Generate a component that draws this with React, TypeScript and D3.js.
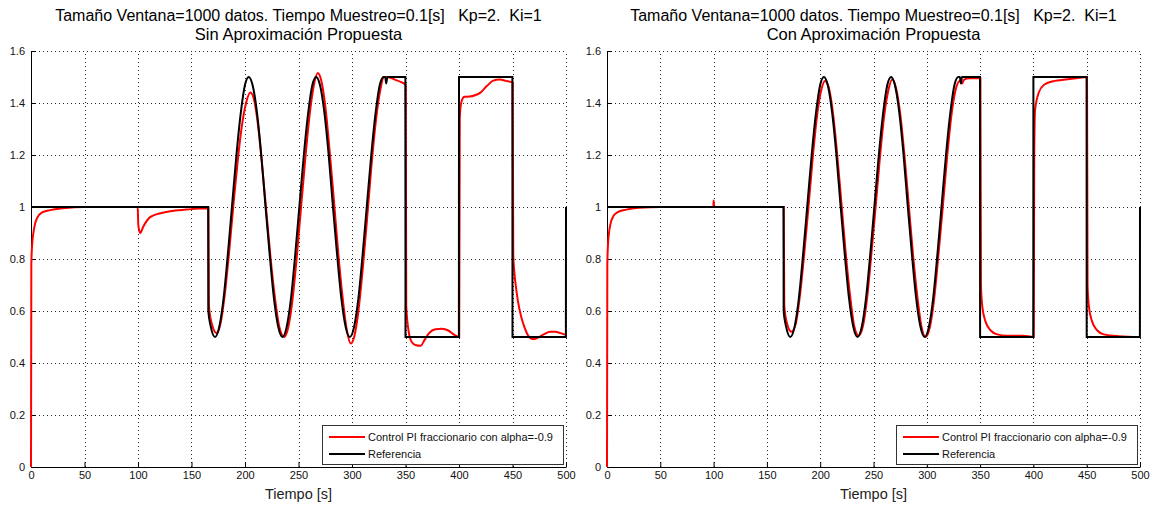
import React, { useRef, useEffect } from 'react';
import { select, scaleLinear, line, curveMonotoneX, axisBottom, axisLeft } from 'd3';

const titleTop = 'Tamaño Ventana=1000 datos. Tiempo Muestreo=0.1[s]   Kp=2.  Ki=1';
const subtitles = ['Sin Aproximación Propuesta', 'Con Aproximación Propuesta'];
const legendLabels = ['Control PI fraccionario con alpha=-0.9', 'Referencia'];
const xLabel = 'Tiempo [s]';
const xTicks = [0, 50, 100, 150, 200, 250, 300, 350, 400, 450, 500];
const yTicks = [0, 0.2, 0.4, 0.6, 0.8, 1, 1.2, 1.4, 1.6];

// reference signal (black)
const refTime = [0, 165.6, 165.7, 168, 172, 176, 180, 184, 188, 192, 196, 200, 203.5, 207, 211, 215, 219, 223, 227, 231, 235,
  239, 243, 247, 251, 255, 259, 263, 266.5, 270, 274, 278, 282, 286, 290, 294, 298,
  302, 306, 310, 314, 318, 322, 326, 329.5, 331, 332, 333, 349.9, 350, 399.9, 400, 449.9, 450, 499.9, 500];
const refValue = [1, 1, 0.6, 0.54, 0.5, 0.54, 0.65, 0.82, 1.01, 1.2, 1.36, 1.47, 1.5, 1.47, 1.37, 1.21, 1.01, 0.82, 0.65, 0.54, 0.5,
  0.54, 0.65, 0.82, 1.01, 1.2, 1.36, 1.47, 1.5, 1.47, 1.37, 1.21, 1.01, 0.82, 0.65, 0.54, 0.5,
  0.54, 0.65, 0.82, 1.01, 1.2, 1.36, 1.47, 1.5, 1.5, 1.475, 1.5, 1.5, 0.5, 0.5, 1.5, 1.5, 0.5, 0.5, 1];

// PI fraccionario, sin aproximacion (red, left)
const sinTime = [0, 0.3, 1, 3, 6, 10, 18, 30, 50, 99.7, 100.3, 102, 105, 111, 120, 130, 145, 165.8,
  166.3, 169, 173.5, 177, 181, 185, 189, 193, 197, 201, 205, 208, 212, 216, 220, 224, 228, 232, 236.5,
  240, 244, 248, 252, 256, 260, 264, 268, 271, 275, 279, 283, 287, 291, 295, 299,
  302, 306, 310, 314, 318, 322, 326, 330, 333, 340, 346, 350.2,
  350.7, 353, 356, 360, 364, 368, 372, 378, 384, 390, 395, 400.2,
  400.7, 402, 405, 410, 415, 420, 426, 432, 438, 444, 450.2,
  450.7, 451.5, 453, 455, 458, 461, 464, 467, 470, 475, 480, 485, 490, 495, 500];
const sinValue = [0, 0.78, 0.85, 0.92, 0.96, 0.978, 0.988, 0.995, 1, 1, 0.93, 0.9, 0.925, 0.96, 0.975, 0.984, 0.99, 0.995,
  0.62, 0.55, 0.515, 0.55, 0.66, 0.82, 1.0, 1.17, 1.31, 1.4, 1.44, 1.42, 1.32, 1.16, 0.98, 0.8, 0.65, 0.54, 0.5,
  0.53, 0.63, 0.79, 0.98, 1.17, 1.34, 1.46, 1.515, 1.49, 1.39, 1.22, 1.03, 0.83, 0.66, 0.53, 0.475,
  0.5, 0.6, 0.76, 0.95, 1.15, 1.32, 1.44, 1.5, 1.5, 1.49, 1.48, 1.47,
  0.62, 0.52, 0.48, 0.468, 0.466, 0.49, 0.515, 0.53, 0.532, 0.525, 0.51, 0.5,
  1.34, 1.4, 1.424, 1.425, 1.43, 1.44, 1.465, 1.486, 1.49, 1.485, 1.478,
  0.82, 0.76, 0.7, 0.64, 0.58, 0.54, 0.51, 0.495, 0.492, 0.5, 0.512, 0.52, 0.52, 0.515, 0.508];

// PI fraccionario, con aproximacion (red, right)
const conTime = [0, 0.3, 1, 3, 6, 10, 18, 30, 50, 99.8, 100, 100.4, 102, 165.8,
  166.3, 169, 173, 177, 181, 185, 189, 193, 197, 201, 204.5, 208, 212, 216, 220, 224, 228, 232, 236,
  240, 244, 248, 252, 256, 260, 264, 267.5, 271, 275, 279, 283, 287, 291, 295, 299,
  303, 307, 311, 315, 319, 323, 327, 331, 333, 335, 340, 350.3,
  350.8, 352, 355, 360, 366, 375, 390, 400.3,
  400.8, 401.5, 403, 405, 410, 420, 430, 440, 450.3,
  450.8, 452, 455, 460, 466, 480, 500];
const conValue = [0, 0.78, 0.86, 0.93, 0.965, 0.98, 0.99, 0.997, 1, 1, 1.025, 1.005, 1, 1,
  0.62, 0.55, 0.52, 0.55, 0.66, 0.82, 1.0, 1.19, 1.35, 1.45, 1.485, 1.46, 1.36, 1.2, 1.01, 0.82, 0.66, 0.54, 0.505,
  0.54, 0.65, 0.82, 1.0, 1.19, 1.35, 1.45, 1.49, 1.46, 1.36, 1.2, 1.01, 0.82, 0.66, 0.54, 0.5,
  0.54, 0.65, 0.82, 1.0, 1.19, 1.35, 1.45, 1.485, 1.475, 1.49, 1.495, 1.495,
  0.7, 0.62, 0.56, 0.525, 0.51, 0.505, 0.505, 0.5,
  1.2, 1.37, 1.41, 1.44, 1.47, 1.485, 1.49, 1.495, 1.5,
  0.7, 0.62, 0.56, 0.525, 0.51, 0.503, 0.5];

const FONT = "'Liberation Sans', Arial, Helvetica, sans-serif";
const TOP = 51;
const BOTTOM = 467;

const panels = [
  { left: 31, right: 566, subtitle: subtitles[0], t: sinTime, v: sinValue },
  { left: 607, right: 1140, subtitle: subtitles[1], t: conTime, v: conValue },
];

const App = () => {
  const svgRef = useRef<SVGSVGElement>(null);

  useEffect(() => {
    const svg = select(svgRef.current);
    svg.selectAll('*').remove();

    panels.forEach((p) => {
      const x = scaleLinear().domain([0, 500]).range([p.left, p.right]);
      const y = scaleLinear().domain([0, 1.6]).range([BOTTOM, TOP]);
      const g = svg.append('g');
      const cx = (p.left + p.right) / 2;

      // dotted grid
      const grid = g.append('g').attr('stroke', '#222').attr('stroke-width', 1).attr('stroke-dasharray', '1,3');
      grid.selectAll('.vg').data(xTicks.slice(1)).join('line').attr('class', 'vg')
        .attr('x1', (d) => Math.round(x(d)) + 0.5).attr('x2', (d) => Math.round(x(d)) + 0.5)
        .attr('y1', y(0)).attr('y2', y(1.6));
      grid.selectAll('.hg').data(yTicks.slice(1)).join('line').attr('class', 'hg')
        .attr('y1', (d) => Math.round(y(d)) + 0.5).attr('y2', (d) => Math.round(y(d)) + 0.5)
        .attr('x1', x(0)).attr('x2', x(500));

      // axes
      const xAxis = axisBottom(x).tickValues(xTicks).tickSize(-5).tickSizeOuter(0).tickPadding(4)
        .tickFormat((d) => String(d));
      g.append('g').attr('transform', `translate(0,${BOTTOM})`).call(xAxis)
        .attr('font-family', FONT).attr('font-size', 11);
      const yAxis = axisLeft(y).tickValues(yTicks).tickSize(-5).tickSizeOuter(0).tickPadding(6)
        .tickFormat((d) => String(d));
      g.append('g').attr('transform', `translate(${p.left},0)`).call(yAxis)
        .attr('font-family', FONT).attr('font-size', 11);
      g.selectAll('.tick text').attr('fill', '#111');

      // series
      const redLine = line<number>().x((d, i) => x(p.t[i])).y((d) => y(d)).curve(curveMonotoneX);
      const blackLine = line<number>().x((d, i) => x(refTime[i])).y((d) => y(d)).curve(curveMonotoneX);
      g.append('path').attr('d', redLine(p.v)).attr('fill', 'none').attr('stroke', '#ff0000').attr('stroke-width', 2);
      g.append('path').attr('d', blackLine(refValue)).attr('fill', 'none').attr('stroke', '#000').attr('stroke-width', 2);

      // titles
      g.append('text').attr('x', cx).attr('y', 21).attr('text-anchor', 'middle')
        .attr('font-family', FONT).attr('font-size', 16).style('white-space', 'pre').text(titleTop);
      g.append('text').attr('x', cx).attr('y', 40).attr('text-anchor', 'middle')
        .attr('font-family', FONT).attr('font-size', 16.5).text(p.subtitle);
      g.append('text').attr('x', cx).attr('y', 499).attr('text-anchor', 'middle')
        .attr('font-family', FONT).attr('font-size', 14.5).attr('fill', '#222').text(xLabel);

      // legend
      const lx = p.right - 244;
      const ly = BOTTOM - 42;
      const lg = g.append('g').attr('transform', `translate(${lx},${ly})`);
      lg.append('rect').attr('x', 0.5).attr('y', 0.5).attr('width', 241).attr('height', 39)
        .attr('fill', '#fff').attr('stroke', '#333');
      ['#ff0000', '#000'].forEach((c, i) => {
        lg.append('line').attr('x1', 7).attr('x2', 43).attr('y1', 12 + i * 17).attr('y2', 12 + i * 17)
          .attr('stroke', c).attr('stroke-width', 2);
        lg.append('text').attr('x', 46).attr('y', 16 + i * 17).attr('font-family', FONT)
          .attr('font-size', 11).attr('fill', '#111').text(legendLabels[i]);
      });
    });
  }, []);

  return (
    <svg ref={svgRef} width={1156} height={505}
      style={{ position: 'absolute', left: 0, top: 0, background: '#fff' }} />
  );
};

export default App;
